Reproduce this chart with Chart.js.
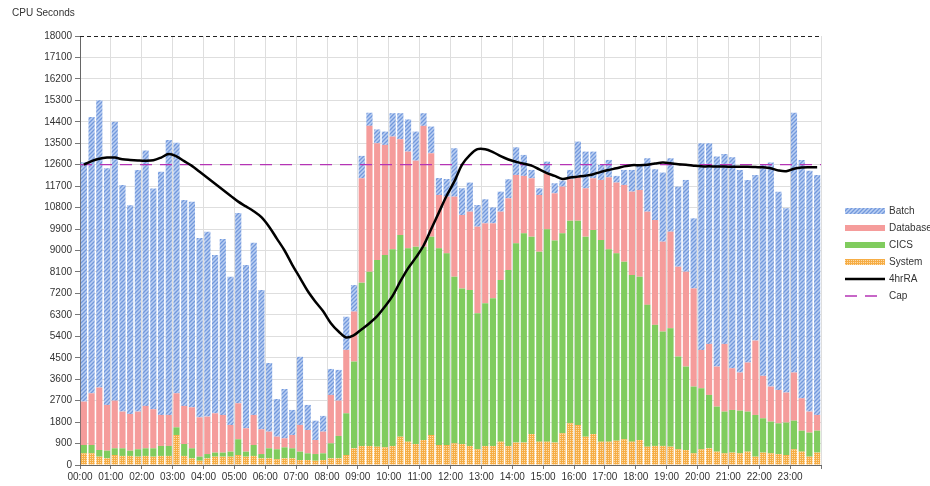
<!DOCTYPE html>
<html>
<head>
<meta charset="utf-8">
<title>CPU Seconds</title>
<script src="https://cdn.jsdelivr.net/npm/chart.js@4.4.1/dist/chart.umd.min.js"></script>
<style>
  html, body { margin: 0; padding: 0; background: #fff; overflow: hidden; }
  #wrap { position: relative; width: 930px; height: 486px; font-family: "Liberation Sans", Arial, sans-serif; color: #333; }
  #title { position: absolute; left: 12px; top: 7px; font-size: 10px; }
  #legend { position: absolute; left: 845px; top: 202px; font-size: 10px; white-space: nowrap; }
  #legend div { height: 17px; display: flex; align-items: center; }
  #legend canvas { margin-right: 4px; }
</style>
</head>
<body>
<div id="wrap">
  <canvas id="cpuChart" width="930" height="486"></canvas>
  <div id="title">CPU Seconds</div>
  <div id="legend"></div>
</div>
<script>
// 96 quarter-hour slots, 00:00 .. 23:45
const hourLabels = ['00:00','01:00','02:00','03:00','04:00','05:00','06:00','07:00','08:00','09:00','10:00','11:00',
                    '12:00','13:00','14:00','15:00','16:00','17:00','18:00','19:00','20:00','21:00','22:00','23:00']
const slotsPerHour = 4

const batch = [10040,11590,12050,9930,11700,9510,8760,10140,10720,9260,10200,11540,10510,8640,8630,7520,7760,6640,7380,6220,7980,6850,7230,5840,
               2880,1580,2070,1050,2860,1050,810,660,1090,1290,1390,1110,940,550,580,560,980,1090,1350,1220,530,1120,710,740,
               2030,1120,1220,910,1010,670,840,800,1160,880,350,280,490,420,250,390,1500,1540,1120,630,730,280,630,910,
               1050,2240,2130,2900,3080,3360,3850,2940,8670,8420,8810,7970,8850,8500,7660,6950,8890,9400,8320,7730,10900,10000,10110,10070]

const database = [1820,2170,2620,1920,2000,1540,1540,1580,1780,1640,1300,1300,1430,1600,1720,1650,1570,1650,1580,1120,1510,980,1260,1040,
                  700,530,380,560,1120,980,590,910,2030,1480,2660,2100,4380,6120,4900,4620,4730,4020,4060,3610,5070,3500,2240,2380,
                  3360,3080,3290,3630,3350,3140,2870,3010,2870,2410,2450,2380,2350,1980,1960,1740,1820,2030,2170,2520,3020,2970,3220,3500,
                  3640,3910,4400,3770,4050,3770,3980,4120,1610,2140,1680,2840,1750,1600,2060,3120,1780,1470,1400,1260,2020,1360,880,660]

const cics = [350,350,280,320,280,320,220,310,320,350,420,420,320,500,420,170,180,170,170,210,660,210,460,180,
              420,420,460,420,350,280,280,280,630,940,1750,3640,6850,7310,7830,8070,8250,8460,8110,8280,8110,8320,8250,8040,
              6990,6530,6540,5710,5990,6200,6780,7380,8360,8780,8280,7970,8910,8480,8390,8500,8570,8390,8560,8460,8070,7860,7450,6990,
              6850,5950,5080,4800,4970,3890,3500,2800,2560,2240,1890,1750,1790,1790,1680,1750,1440,1330,1290,1360,1200,880,1010,920]

const system = [490,490,350,280,420,380,380,350,380,350,380,380,1260,380,280,180,280,350,350,350,420,350,380,280,
                280,240,280,280,210,210,180,210,280,280,420,700,800,800,770,740,800,1190,980,880,1050,1260,840,840,
                910,880,800,660,800,800,980,800,940,940,1300,980,980,940,1330,1750,1680,1190,1300,980,980,1020,1080,980,
                1050,770,800,800,770,660,630,490,660,700,560,490,520,490,560,350,520,490,460,420,660,560,350,520]

const rolling4h = [12600,12750,12850,12900,12900,12830,12800,12780,12770,12790,12900,13050,12950,12750,12550,12300,12050,11800,11550,11300,11050,10850,10650,10400,
                   10000,9500,9000,8400,7850,7300,6850,6450,5950,5600,5350,5450,5700,5950,6250,6650,7100,7700,8250,8700,9200,9900,10600,11300,
                   11900,12600,13000,13250,13250,13130,12960,12820,12720,12640,12560,12400,12250,12130,12000,12060,12100,12140,12200,12300,12380,12450,12530,12580,
                   12580,12600,12650,12690,12660,12620,12600,12560,12530,12530,12520,12520,12510,12510,12510,12500,12490,12450,12360,12330,12430,12480,12490,12490]

const capLimit = 12600

const FONT = '"Liberation Sans", Arial, sans-serif'

// hatch fills
const makePattern = (w, h, draw) => {
    let c = document.createElement('canvas')
    c.width = w
    c.height = h
    let g = c.getContext('2d')
    draw(g)
    return g.createPattern(c, 'repeat')
}

const batchFill = makePattern(4, 4, g => {
    g.fillStyle = '#bcd0f3'
    g.fillRect(0, 0, 4, 4)
    g.strokeStyle = '#7399dc'
    g.lineWidth = 1.3
    g.beginPath()
    g.moveTo(-1, 5); g.lineTo(5, -1)
    g.moveTo(-1, 1); g.lineTo(1, -1)
    g.moveTo(3, 5); g.lineTo(5, 3)
    g.stroke()
})

const systemFill = makePattern(2, 2, g => {
    g.fillStyle = '#f6ad45'
    g.fillRect(0, 0, 2, 2)
    g.fillStyle = '#fcdcac'
    g.fillRect(0, 0, 1, 1)
})

const databaseColor = '#f59c9b'
const cicsColor = '#80cc5e'

const toPoints = arr => arr.map((v, i) => ({ x: (i + 0.5) / slotsPerHour, y: v }))

const barOpts = { type: 'bar', order: 1, borderWidth: 0, barPercentage: 0.8, categoryPercentage: 1 }

const data = {
    datasets: [
        { ...barOpts, label: 'System', data: toPoints(system), backgroundColor: systemFill },
        { ...barOpts, label: 'CICS', data: toPoints(cics), backgroundColor: cicsColor },
        { ...barOpts, label: 'Database', data: toPoints(database), backgroundColor: databaseColor },
        { ...barOpts, label: 'Batch', data: toPoints(batch), backgroundColor: batchFill },
        {
            type: 'line', order: 0, stack: 'ra', label: '4hrRA', data: toPoints(rolling4h),
            borderColor: '#000', borderWidth: 2.5, pointRadius: 0, tension: 0.35, fill: false
        },
        {
            type: 'line', order: 0, stack: 'cap', label: 'Cap',
            data: [{ x: 0, y: capLimit }, { x: hourLabels.length, y: capLimit }],
            borderColor: '#b534b5', borderWidth: 1.3, borderDash: [12, 8], pointRadius: 0, fill: false
        }
    ]
}

const topDash = {
    id: 'topDash',
    afterDraw(chart) {
        const { ctx, chartArea } = chart
        ctx.save()
        ctx.strokeStyle = '#222'
        ctx.lineWidth = 1
        ctx.setLineDash([4, 3])
        ctx.beginPath()
        ctx.moveTo(chartArea.left, Math.round(chartArea.top) + 0.5)
        ctx.lineTo(chartArea.right, Math.round(chartArea.top) + 0.5)
        ctx.stroke()
        ctx.restore()
    }
}

const config = {
    type: 'bar',
    data: data,
    options: {
        responsive: false,
        animation: false,
        layout: { padding: { left: 12, right: 109, top: 36, bottom: 0 } },
        plugins: { legend: { display: false }, tooltip: { enabled: false } },
        scales: {
            x: {
                type: 'linear', stacked: true, min: 0, max: 24, offset: false,
                ticks: {
                    stepSize: 1, autoSkip: false, maxRotation: 0, padding: 2,
                    color: '#333', font: { family: FONT, size: 10 },
                    callback: v => hourLabels[v] ?? ''
                },
                grid: { offset: false, color: '#dedede', tickLength: 4, tickColor: '#777' },
                border: { color: '#666' },
                afterFit: s => { s.height = 21 }
            },
            y: {
                stacked: true, min: 0, max: 18000,
                ticks: {
                    stepSize: 900, autoSkip: false, padding: 3, color: '#333', font: { family: FONT, size: 10 },
                    callback: v => String(v)
                },
                grid: {
                    color: c => c.tick && c.tick.value === 18000 ? 'rgba(0,0,0,0)' : '#dedede',
                    tickLength: 5, tickColor: '#777'
                },
                border: { color: '#666' },
                afterFit: s => { s.width = 68 }
            }
        }
    },
    plugins: [topDash]
}

let ctx = document.querySelector('#cpuChart').getContext('2d')
const myChart = new Chart(ctx, config)

// legend, same order as the original
const legendItems = [
    { label: 'Batch', fill: batchFill },
    { label: 'Database', fill: databaseColor },
    { label: 'CICS', fill: cicsColor },
    { label: 'System', fill: systemFill },
    { label: '4hrRA', line: '#000', width: 2.5 },
    { label: 'Cap', line: '#b534b5', width: 1.3, dash: [12, 8] }
]

const legendBox = document.querySelector('#legend')
legendItems.forEach(item => {
    let row = document.createElement('div')
    let sw = document.createElement('canvas')
    sw.width = 40
    sw.height = 8
    let g = sw.getContext('2d')
    if (item.line) {
        g.strokeStyle = item.line
        g.lineWidth = item.width
        g.setLineDash(item.dash || [])
        g.beginPath()
        g.moveTo(0, 4)
        g.lineTo(40, 4)
        g.stroke()
    } else {
        g.fillStyle = item.fill
        g.fillRect(0, 1, 40, 6)
    }
    let txt = document.createElement('span')
    txt.textContent = item.label
    row.appendChild(sw)
    row.appendChild(txt)
    legendBox.appendChild(row)
})
</script>
</body>
</html>
